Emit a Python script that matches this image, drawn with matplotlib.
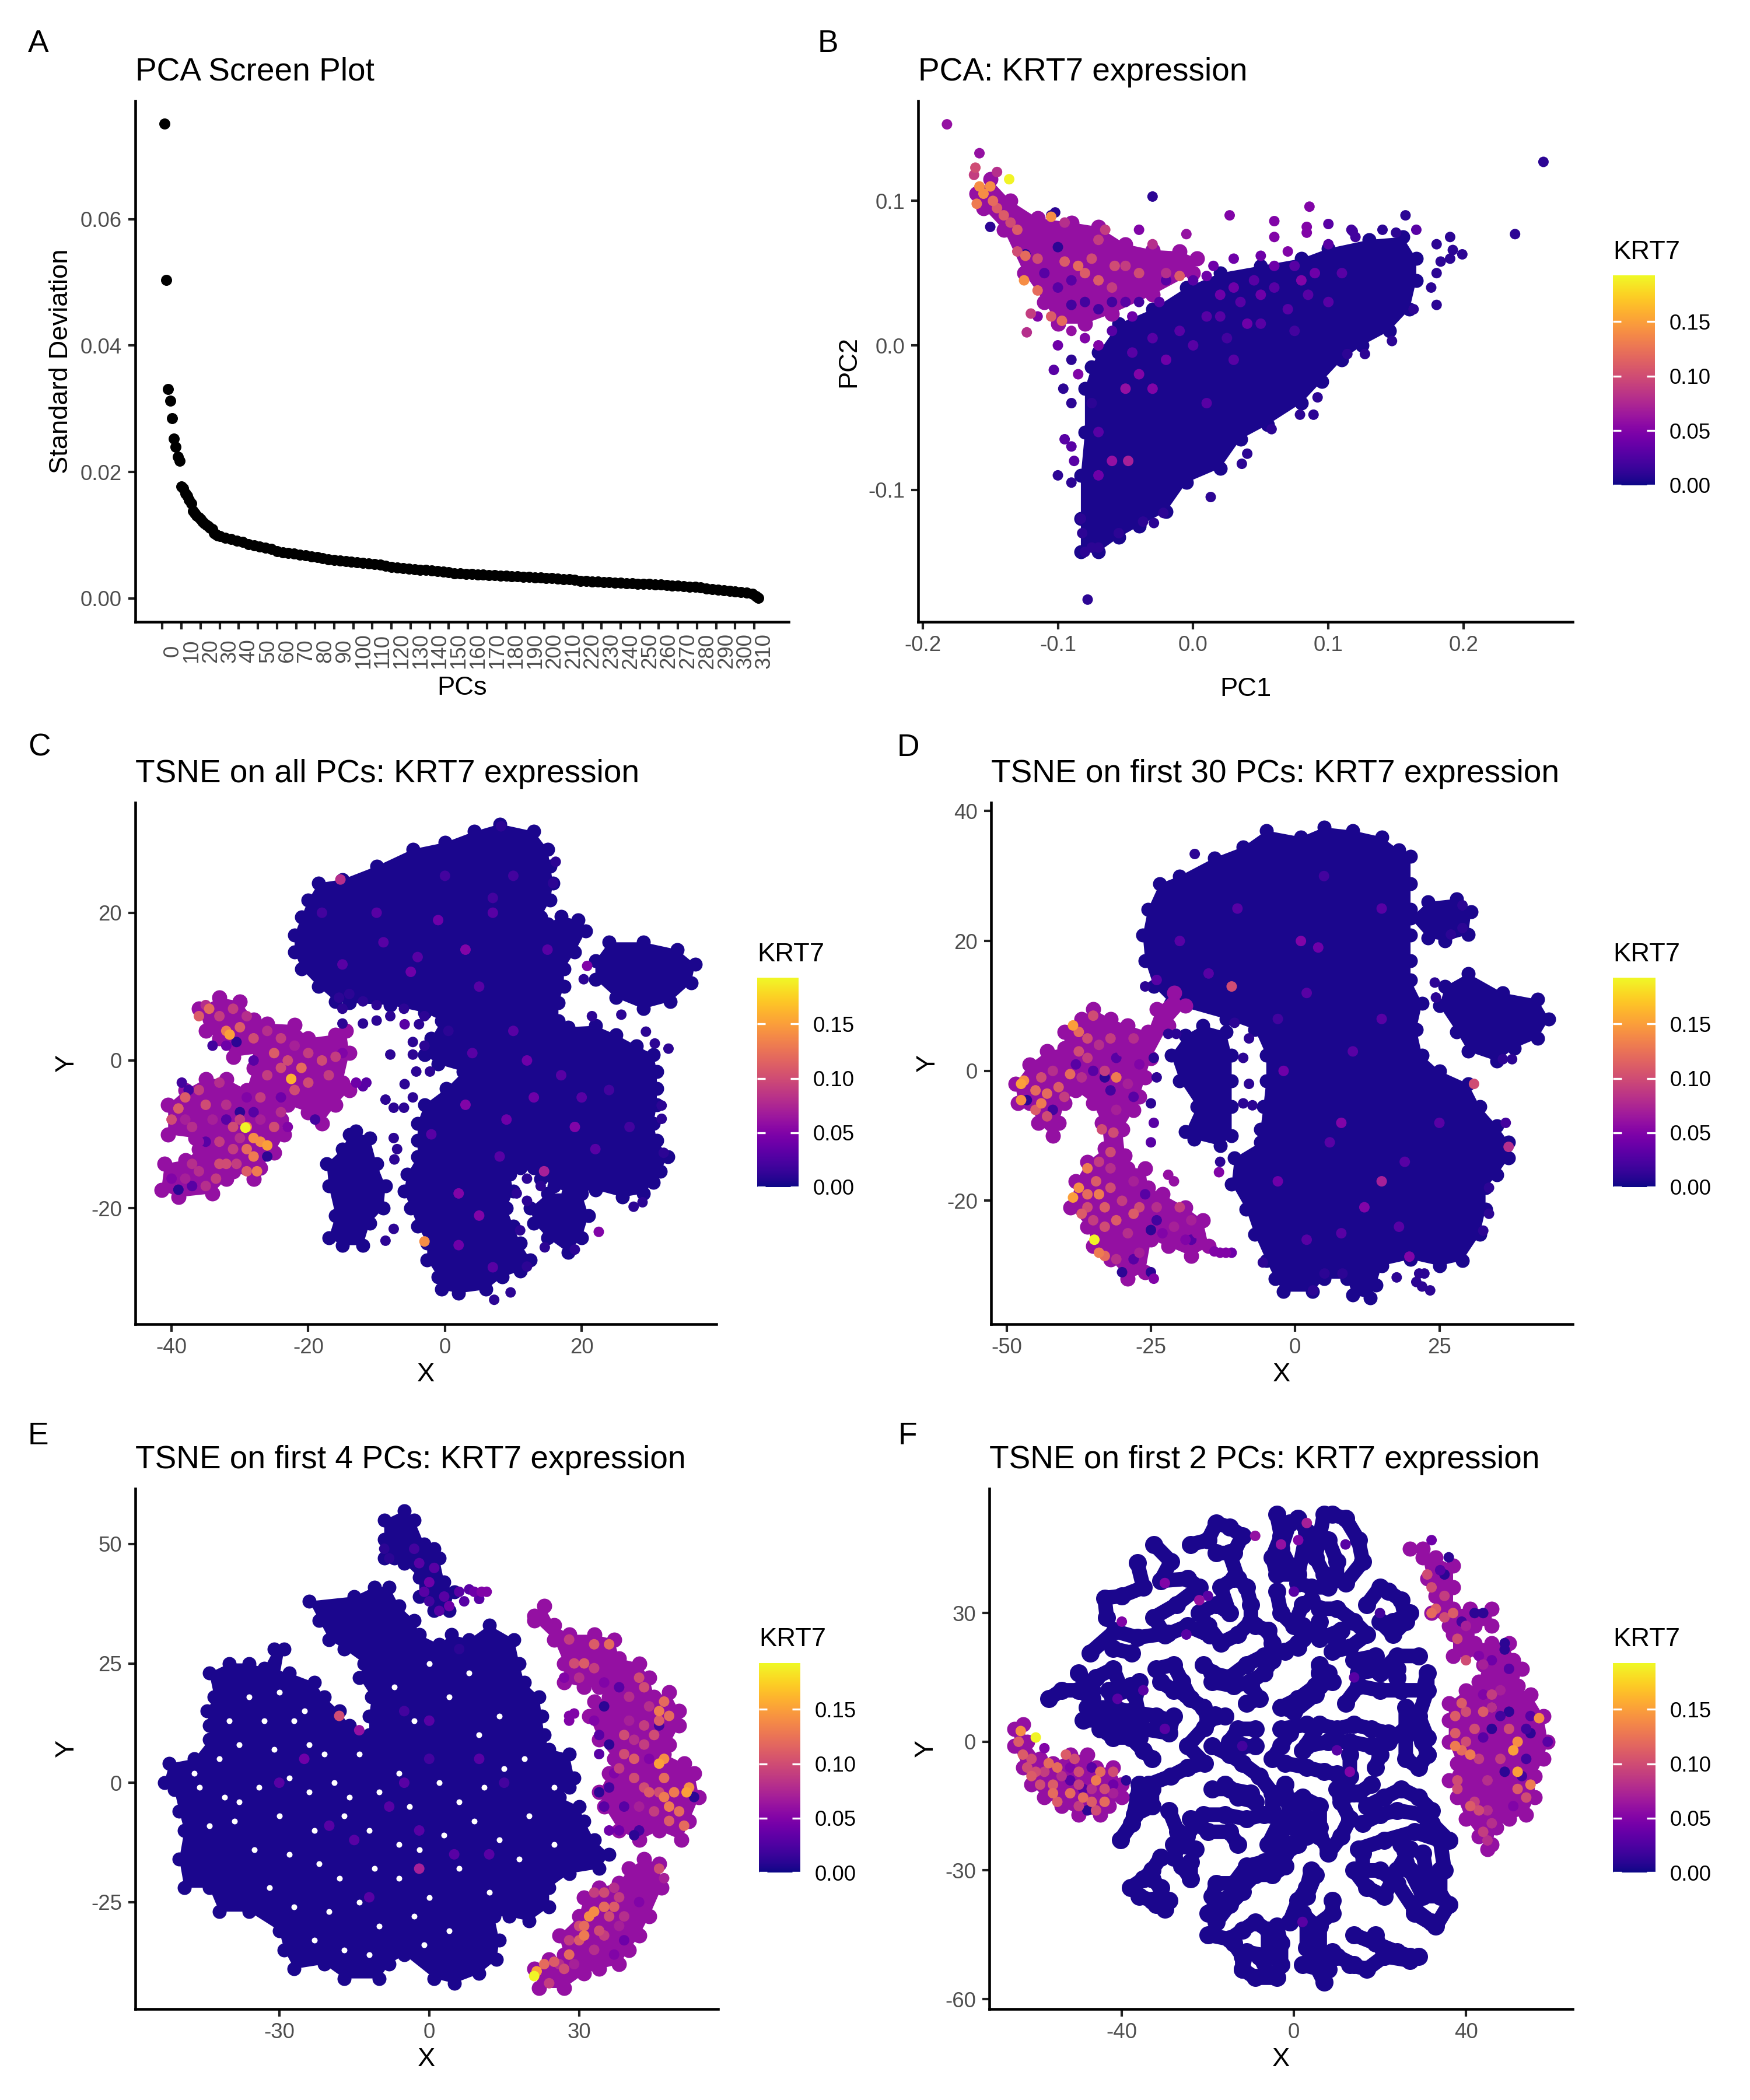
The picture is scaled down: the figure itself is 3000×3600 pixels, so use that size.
import matplotlib
matplotlib.use("Agg")
import matplotlib.pyplot as plt
import numpy as np

plt.rcParams['font.family'] = ['Liberation Sans', 'DejaVu Sans']
plt.rcParams['axes.unicode_minus'] = False

W, H = 3000, 3600
KRT7_MAX = 0.1925
GREY = '#4D4D4D'

# panel A
pcs = list(range(1, 31)) + list(range(33, 310, 3)) + [311, 312]
sdev = [.0751, .0504, .0331, .0313, .0285, .0253, .0240, .0224, .0218, .0177,
        .0174, .0166, .0162, .0156, .0150, .0138, .0135, .0131, .0128, .0125,
        .0122, .0119, .0116, .0114, .0112, .0110, .0103, .0101, .0100, .0099,
        .0096, .0094, .0091, .0089, .0086, .0084, .0082, .0080, .0078, .0075,
        .0073, .0072, .0071, .0069, .0068, .0066, .0065, .0064, .0062, .0061,
        .0060, .0059, .0058, .0057, .0056, .0055, .0054, .0053, .0052, .0050,
        .0049, .0048, .0047, .0046, .0045, .0045, .0044, .0043, .0042, .0041,
        .0040, .0040, .0039, .0039, .0038, .0038, .0037, .0037, .0036, .0036,
        .0035, .0035, .0034, .0034, .0033, .0033, .0032, .0032, .0031, .0030,
        .0030, .0029, .0028, .0028, .0027, .0027, .0026, .0026, .0025, .0025,
        .0024, .0024, .0023, .0023, .0023, .0022, .0022, .0021, .0020, .0020,
        .0019, .0018, .0018, .0017, .0016, .0015, .0014, .0013, .0012, .0011,
        .0010, .0009, .0007, .0004, .0001]
pc_ticks = list(range(0, 311, 10))

# panel B: outlines of the dense clouds, then single dots
b_cloud = [[(-.07, -.005), (-.055, .015), (-.03, .025), (-.005, .04), (.02, .05), (.05, .055), (.08, .06), (.1, .067), (.13, .073), (.155, .075), (.165, .06), (.165, .045), (.16, .025),
            (.145, .01), (.125, 0), (.11, -.01), (.095, -.025), (.08, -.04), (.055, -.055), (.035, -.065), (.02, -.085), (-.005, -.095), (-.02, -.115), (-.04, -.125), (-.055, -.133), (-.07, -.143),
            (-.083, -.143), (-.083, -.12), (-.083, -.09), (-.08, -.06), (-.08, -.03), (-.075, -.015)]]
b_hot = [[(-.16, .105), (-.15, .115), (-.135, .1), (-.115, .088), (-.09, .085), (-.07, .082), (-.05, .07), (-.03, .066), (-.01, .065), (.003, .06), (0, .05), (-.03, .035), (-.06, .022), (-.08, .015),
          (-.1, .015), (-.11, .03), (-.125, .05), (-.14, .08), (-.155, .095)]]
b_dots = [(-.182, .153, .06), (-.158, .133, .06), (-.161, .123, .1), (-.162, .118, .09), (-.145, .12, .08), (-.136, .115, .19),
          (-.158, .11, .14), (-.155, .105, .14), (-.15, .11, .14), (-.148, .1, .12), (-.145, .095, .11), (-.14, .09, .11),
          (-.16, .098, .13), (-.135, .085, .1), (-.13, .08, .11), (-.105, .089, .14), (-.095, .085, .08), (-.13, .065, .1),
          (-.124, .062, .12), (-.115, .06, .1), (-.095, .058, .11), (-.085, .055, .12), (-.08, .05, .11), (-.075, .06, .1),
          (-.07, .045, .11), (-.06, .04, .09), (-.05, .055, .09), (-.04, .05, .1), (-.02, .05, .08), (-.01, .048, .11),
          (-.125, .045, .14), (-.115, .038, .12), (-.105, .02, .11), (-.12, .022, .09), (-.123, .009, .08), (-.097, .017, .12),
          (-.065, .08, .09), (-.07, .073, .09), (-.058, .055, .1), (-.04, .08, .05), (-.03, .07, .08),
          (-.15, .082, .01), (-.102, .092, .01), (-.105, .09, .01), (-.1, .068, .01), (-.124, .063, .01), (-.03, .103, .01),
          (.027, .09, .05), (.06, .086, .05), (.086, .096, .05), (.084, .082, .05), (.084, .078, .05), (.1, .084, .03),
          (.118, .079, .02), (.117, .08, .02), (.157, .09, .01), (.165, .08, .03), (.06, .075, .05), (-.005, .077, .06),
          (.19, .075, .01), (.18, .07, .01), (.192, .066, .01), (.199, .063, .01), (.19, .06, .01), (.183, .058, .01),
          (.18, .05, .01), (.176, .04, .01), (.18, .028, .01), (.163, .025, .01), (.147, .003, .01), (.127, -.006, .01),
          (.114, -.006, .01), (.092, -.036, .01), (.079, -.048, .01), (.089, -.048, .01), (.058, -.058, .01), (.04, -.075, .01),
          (.036, -.082, .01), (.013, -.105, .01), (-.022, -.116, .01), (-.029, -.123, .01), (-.037, -.122, .01), (-.055, -.13, .01),
          (-.078, -.176, .01), (-.08, -.143, .01), (-.075, -.14, .01), (-.07, -.14, .01), (-.082, -.13, .01), (-.083, -.12, .01),
          (.238, .077, .01), (.259, .127, .01), (-.095, -.065, .03), (-.09, -.07, .03), (-.1, -.09, .01), (-.09, -.095, .01),
          (-.088, -.08, .03), (-.103, -.017, .03), (-.09, -.01, .01), (-.096, -.03, .01), (-.09, -.04, .01), (-.1, 0, .04),
          (.03, .04, .04), (.05, .035, .04), (.08, .045, .05), (.07, .025, .03), (.04, .015, .04), (.09, .05, .04),
          (.06, .055, .04), (.1, .03, .03), (.02, .02, .03), (-.02, -.01, .04), (-.03, -.03, .05), (-.04, -.02, .05),
          (-.05, -.03, .06), (-.06, -.08, .06), (-.048, -.08, .07), (.03, -.01, .03), (.01, -.04, .03), (-.07, -.09, .04),
          (-.08, .03, .02), (-.07, .025, .02), (-.06, .03, .02), (-.05, .03, .03), (-.04, .03, .02), (-.09, .028, .02), (-.1, .04, .03), (-.11, .05, .03), (-.09, .045, .03), (-.115, .02, .05),
          (-.02, .045, .03), (0, .045, .03), (.015, .055, .04), (.03, .06, .04), (.05, .062, .04), (.07, .065, .05), (.1, .07, .03), (.12, .075, .02), (.14, .08, .01), (.15, .078, .01),
          (-.07, 0, .05), (-.06, .01, .03), (-.045, .02, .04), (-.025, .03, .03), (.01, .048, .04), (-.08, .005, .05), (-.085, -.02, .05), (-.09, .01, .06), (-.075, -.04, .01), (-.07, -.06, .03),
          (.01, .02, .03), (.035, .03, .03), (.06, .04, .03), (.085, .035, .03), (.11, .05, .03), (.02, .035, .04), (.045, .045, .03), (.075, .055, .03), (-.01, .01, .03), (-.03, .005, .03), (-.045, -.005, .03), (0, 0, .03), (.025, .005, .02), (.05, .015, .03), (.075, .01, .02)]

# panel C
c_cloud = [[(4.3, 31), (8, 32), (13, 31), (15, 28.6), (15.4, 26.3), (15.8, 24), (15.4, 21.7), (14, 19.4), (15, 18.5), (17, 19.5), (19.5, 19), (20.6, 17.5), (19, 14.7), (17.4, 12.4), (17.4, 10), (16.6, 7.8),
            (16.6, 5.4), (18, 4.5), (22, 4.7), (25, 3.5), (28, 2), (30.5, .8), (31, -1.5), (31, -3.8), (31, -6), (30.5, -8.5), (31, -10.8), (32.6, -13), (31.5, -15), (30.5, -16.5), (29, -18), (26, -18.5),
            (22, -17.5), (18, -18), (16, -17), (14, -16), (13, -14.5), (11, -14.5), (9.5, -15.4), (10, -17.7), (9, -20), (10, -22.4), (11, -24.7), (12.5, -27), (11, -28.5), (8.4, -29.3), (6, -31), (2, -31.5),
            (-.5, -31), (-1, -29.3), (-2.6, -27), (-2.6, -24.7), (-4, -22.4), (-5, -20), (-6, -17.7), (-5.5, -15.4), (-4, -13), (-4, -10.8), (-4, -8.5), (-3, -6), (.2, -3.8), (2.7, -1.5), (-1, -.5), (-3, .8),
            (-2, 3), (-.5, 5.4), (-3, 6.5), (-8, 7.5), (-14, 7.8), (-16, 8), (-18.5, 10), (-21, 12.4), (-22, 14.7), (-22, 17), (-21, 19.4), (-20, 21.7), (-18.5, 24), (-15, 24.5), (-10, 26.3), (-4.7, 28.6), (0, 29.5)],
           [(-13, -9.6), (-11, -10.5), (-10, -14), (-8.7, -17), (-9, -20), (-11, -22), (-12, -25), (-15, -25), (-17, -24), (-16, -21), (-17, -17), (-17.3, -14), (-15, -12), (-14, -10)],
           [(24, 16), (29, 16), (34, 15), (36.6, 13), (36, 10.5), (33, 8), (29, 7), (25, 8.5), (22, 11), (22, 13.5)],
           [(12.5, -20), (15, -18), (20, -18), (21, -21), (20, -24), (18, -26), (15, -24), (13, -22)]]
c_hot = [[(-36, 7), (-33, 8.5), (-30, 8), (-28, 5.5), (-26, 5), (-22, 4.8), (-20, 3), (-16, 3.5), (-14.5, 4), (-14, 1), (-15, -3), (-14, -4), (-16, -6), (-18, -8.5), (-20, -7), (-23, -6), (-24, -8), (-23.5, -10),
          (-25, -12.5), (-27, -14.5), (-28, -16), (-31, -15), (-32, -16), (-34, -18), (-39, -18.5), (-41.5, -17.5), (-41, -14), (-38, -13.5), (-36, -12), (-36.5, -10.5), (-40.5, -10), (-40.5, -6), (-38, -4), (-35, -2.5), (-32, -2.5),
          (-29, -4), (-28, -1), (-27, 1), (-31, .5), (-33, 3), (-35, 4)]]
c_dots = [(-34.5, 7, .12), (-33, 6, .09), (-32, 4, .13), (-31.5, 3.5, .15), (-30, 4.5, .11), (-28, 3, .1), (-24, 3, .09), (-23, 0, .1), (-21, -1, .12), (-22.5, -2.5, .16),
          (-20, -3, .1), (-18, 0, .1), (-16, .5, .09), (-22, -4, .1), (-26, -2, .09), (-39, -6.5, .11), (-40, -8, .1), (-38, -5, .11), (-37, -9, .08), (-35, -6, .1),
          (-32, -6, .08), (-30, -8, .09), (-29, -9, .13), (-29.2, -9.1, .19), (-28, -10.5, .14), (-27, -11, .14), (-26, -11.5, .15), (-29, -12, .12), (-31, -12, .09), (-28, -13, .13),
          (-29, -15, .11), (-27.5, -15, .13), (-30.5, -14, .09), (-33, -14, .1), (-37, -14, .08), (-35, -17, .08), (-33.5, -16, .09), (-24, -7, .08), (-25, -9, .1), (-27, -8, .07),
          (-37.5, -4, .02), (-38.5, -3, .02), (-39, -17.5, .01), (-30, -7, .01), (-26, -13, .01), (-30.5, 2.5, .01), (-32, 2, .04), (-13, -3, .04), (-12, -3.5, .03), (-11.5, -3, .03), (-19, -8, .02),
          (-36, 6, .11), (-35, 7.5, .08), (-31, 7, .09), (-29, 6, .08), (-26, 4, .08), (-25, 1, .11), (-24, -1, .1), (-20, 1, .09), (-17, -2, .09), (-19, -5, .06), (-33, -3, .08), (-36, -4, .09), (-34, -8, .07), (-31, -9, .1),
          (-38, -8, .07), (-36, -11, .06), (-33, -11, .09), (-30, -10.5, .08), (-25, -6, .06), (-23, -9, .05), (-40, -16, .05), (-38, -16, .07), (-36, -15, .08), (-32, -14, .1), (-29, -5, .05), (-27, -5, .09), (-22, 2, .07), (-15, 1, .05),
          (-34, 2, .02), (-28, 0, .03), (-24, -5, .04), (-35, -11, .03), (-32, -8, .03), (-28, -7, .03), (-37, -17, .03),
          (-8, .8, .01), (-4.7, 2.5, .01), (-4.7, .8, .01), (-12, 5, .01), (-10, 5.4, .01), (-8, 6, .01), (-5.9, 4.9, .03), (-3.8, 4.9, .01), (-7.5, -10.5, .01), (-7, -12, .01),
          (-7.4, -13.4, .01), (-7.5, -22.8, .01), (-8.7, -24.4, .01), (-8.7, -5.3, .01), (-7.5, -6.4, .01), (-6, -6.4, .01), (-4.2, -1.5, .01), (-5.9, -3.2, .01), (-4.7, -5, .01), (-2.2, -1.5, .01),
          (21.5, 6, .01), (25.8, 6.2, .01), (29.4, 3.9, .01), (32.7, 1.6, .01), (30.7, 2.3, .01), (31.7, -6.1, .01), (31.7, -7.9, .01), (32, -12.5, .01), (28.9, -19.2, .01), (27.6, -19.8, .01),
          (22.5, -23.2, .05), (20.8, 12.8, .05), (20.3, 11, .01), (16.2, 26.9, .01), (15.8, 24, .01), (8.2, 31.7, .01), (7.2, -32.4, .01), (9.6, -31.4, .01), (19, -25.6, .01), (14.6, -25.3, .01),
          (12, -27.9, .01), (-15.5, 8.5, .01), (-15, 7, .01), (-15, 5, .01), (-14, 9, .01), (-12, 8, .01), (-10, 7.5, .01), (-6, 7, .01), (-3, 6, .01),
          (12, -16, .01), (10.5, -18, .01), (12, -19, .01), (11, -23, .01), (14, -17, .01), (-3, -24.5, .14), (-3, 2, .01), (.5, 4, .01), (-15.3, 24.5, .08),
          (-1, 19, .04), (3, 15, .05), (-5, 12, .04), (7, 20, .03), (12, 0, .04), (13, -5, .04), (3, -6, .05), (5, -21, .05), (8, -13, .03), (14.5, -15, .07), (-10, 20, .03), (-4, 14, .03), (15, 15, .03), (7, 22, .02), (20, -5, .03), (24, -4, .02), (2, -18, .05),
          (-18, 20, .02), (-15, 13, .03), (-9, 16, .03), (0, 25, .02), (10, 25, .02), (5, 10, .03), (10, 4, .03), (17, -2, .03), (22, -12, .03), (27, -9, .02), (-2, -10, .03), (2, -25, .04), (7, -28, .03), (9, -8, .04), (19, -9, .05), (4, 1, .03)]

# panel D
d_cloud = [[(-5, 37), (1, 36), (5, 37.5), (10, 37), (15, 36), (18, 34), (20, 33), (20, 28.8), (20, 24.9), (20, 20.9), (20, 17), (20, 14), (22, 10.4), (21, 6.4), (22, 2.4), (25, 0), (30, -2), (32, -5.5), (35, -8.5), (37, -11), (37, -13.4),
            (35, -16), (33, -18), (33, -21.3), (32, -25.2), (29, -29.2), (25, -30), (20, -29), (15, -30), (14, -33), (13, -35), (10, -34.5), (9, -32), (5, -32), (3, -34), (-2, -34), (-3.5, -32), (-5, -29.2), (-7, -25.2), (-8.5, -21.3),
            (-11, -17.4), (-10.5, -13.4), (-6, -11), (-6, -9), (-5.5, -5.5), (-5, -1.5), (-5, 2.4), (-7, 6.4), (-12, 8), (-21.6, 10.4), (-24.5, 13), (-26, 17), (-26.4, 20.9), (-25.5, 24.9), (-23.5, 28.8), (-20, 30), (-14, 32.8), (-9, 34.5)],
           [(-16, 7), (-12, 6), (-11, 2.4), (-11, -1.5), (-11, -5.5), (-11, -10), (-13, -11.5), (-17.5, -10.5), (-19, -9.4), (-17, -5.5), (-20, -1.5), (-21.5, 2.4), (-19, 5.5)],
           [(20, 23.5), (23, 26), (28, 26.5), (30.5, 24.5), (30, 21), (26, 20), (23, 20.5)],
           [(26, 13), (30, 15), (36, 12), (42, 11), (44, 8), (42, 5), (38, 3.5), (35, 1.5), (30, 3), (28, 6), (25, 10)]]
d_hot = [[(-48.5, -2), (-46, 1), (-43, 3), (-40, 3.5), (-40, 6), (-37, 8), (-35, 9.5), (-32, 8), (-29, 7), (-25.5, 6), (-24, 9.5), (-21, 12), (-19, 10), (-22, 7), (-25, 2), (-26, -1), (-27, -4), (-28, -6), (-30, -9), (-29.5, -13), (-29, -15),
          (-26, -15), (-25.5, -18), (-23, -19), (-19, -21), (-16, -23), (-15, -27), (-18, -28.5), (-22, -27), (-25, -26), (-26, -31), (-29, -32), (-32, -29), (-35, -27), (-36, -24), (-39, -21), (-38, -17), (-36, -14), (-33, -12), (-33.5, -8),
          (-35, -5), (-38, -3), (-40, -5), (-41, -8), (-42, -10), (-44.5, -8), (-46, -5), (-48, -5)]]
d_dots = [(-47.5, -2, .15), (-47, -1.5, .14), (-47.5, -4.5, .14), (-45, -3, .12), (-44, -5, .13), (-43, -7, .1), (-43, -3.5, .12), (-41, -2.5, .11), (-39, -.5, .12), (-38.5, 7, .15),
          (-37.5, 6, .12), (-36, 5, .1), (-37.5, 3, .1), (-35, 8.5, .1), (-31, -1, .13), (-33, 0, .09), (-33.5, -9, .1), (-31.5, -9.5, .1), (-32, -12.5, .1), (-34, -14, .09),
          (-36, -15, .13), (-37.5, -18, .14), (-38.5, -19.5, .15), (-36, -19, .12), (-34.5, -17, .11), (-32, -18, .1), (-33, -21, .11), (-36, -21, .1), (-28, -22, .11), (-31, -23, .11),
          (-34.8, -26, .19), (-34, -28, .13), (-33, -28.5, .12), (-27, -21, .1), (-31, -29, .08), (-20, -21, .09), (-18, -23, .07), (-46.5, -4.5, .01), (-30, -31, .01), (-25, -24.5, .01),
          (-33, -1, .01), (-13, -28, .05), (-12, -28, .05), (-11, -28, .04), (-14, -27.8, .05), (-22, -16, .06), (-21, -17, .06), (-13.2, -15.6, .05), (-24.5, -32, .05), (-25, -31, .01),
          (-44, -1, .1), (-42, 0, .08), (-40, -4, .09), (-45, -6, .11), (-36, 2, .09), (-34, 4, .08), (-32, 5, .09), (-30, 3, .06), (-28, 5, .08), (-27, 1, .05), (-29, -2, .07), (-34, -3, .06), (-37, -1, .08),
          (-31, -6, .07), (-32, -15, .08), (-30, -20, .09), (-33, -24, .1), (-29, -25, .08), (-27, -28, .07), (-30, -27, .06), (-24, -21, .08), (-23, -25, .05), (-21, -24, .07), (-19, -26, .05), (-17, -25, .06),
          (-35, -23, .09), (-37, -22, .11), (-34, -19, .13), (-28, -17, .07), (-35, 0, .03), (-31, 2, .03), (-28, -4, .03), (-32, -3, .02), (-38, 1, .03), (-42, -6, .02), (-28, -29, .03), (-24, -23, .02), (-26, -19, .03), (-18, -26, .03),
          (-17.4, 33.4, .01), (24.2, 13.6, .01), (24.4, 11.3, .01), (36.5, -8, .02), (37, -11.7, .08), (31, -2, .1), (-13, -14, .01), (-7.4, -5.3, .01), (-10.5, 7.4, .01), (-20.6, 5.7, .01),
          (-22, 5.7, .01), (36, 1.8, .01), (37.6, 1.8, .01), (33.6, -22, .01), (32.6, -24.6, .01), (19.8, -28.6, .05), (22, -33.2, .01), (23.4, -33.8, .01), (21, -32.5, .01), (22.4, -31.2, .01),
          (21.5, -31.2, .01), (3.1, -33.8, .01), (-5.6, -29.5, .01), (8.2, -31.2, .01), (5.1, -31.2, .01), (17.6, -31.8, .01), (33.6, -18, .01), (27, 21, .01), (29, 25.5, .01), (29, 22, .01),
          (-24, -1, .01), (-24.5, 2, .01), (-25, -5, .01), (-24.5, -8, .03), (-25, -11, .03), (-26, 13, .01), (-24, 14, .03), (-8, 5, .01), (-9, 2, .01), (-8, -2, .01), (-9, -5, .01),
          (2, 12, .03), (1, 20, .05), (-3, 8, .02), (8, -8, .05), (15, -17, .07), (-11, 13, .1), (2, -26, .03), (12, -21, .05), (10, 3, .03), (6, -11, .03), (4, 19, .04), (19, -14, .03), (-2, 0, .04),
          (-10, 25, .03), (5, 30, .02), (15, 25, .03), (-20, 20, .03), (-15, 15, .03), (15, 8, .03), (25, -8, .03), (-3, -17, .04), (18, -24, .03), (8, -25, .03)]

# panel E
e_cloud = [[(-24, 38), (-15, 39), (-11, 41), (-8, 41), (-6, 37), (-3, 34), (-2, 31), (2, 29), (4.5, 31), (8, 30), (12, 33), (17, 30), (18, 25), (19, 21), (22, 18), (22.5, 14), (23, 10), (24, 7), (28, 6), (29, 1), (28, -1), (26, -3), (30, -5), (31, -8),
            (33, -12), (36, -15), (34, -18), (28, -19), (24, -22), (24, -26), (20, -29), (16, -28), (13, -28), (14, -33), (13.5, -37), (10, -40), (5, -42), (1, -41), (-5, -36), (-8, -38), (-10, -41), (-17, -41), (-21, -38), (-27, -39), (-29, -35),
            (-30, -31), (-36, -27), (-42, -27), (-44, -22), (-49, -22), (-50, -16), (-49, -10), (-50, -6), (-51, -1.5), (-53, 0), (-52, 4), (-47, 5), (-44, 9), (-44, 12), (-44.5, 15), (-43, 18), (-44, 23), (-40, 25), (-36, 25), (-33, 24), (-31, 28),
            (-29, 28), (-30, 22), (-28, 23), (-23, 21), (-21, 18), (-18, 15), (-16, 12), (-12, 10), (-12, 14), (-11.5, 18), (-14, 22), (-13, 25), (-17, 28), (-20, 30), (-22, 34)],
           [(-9, 55), (-5, 57), (-3, 55), (-1, 50), (1, 49), (2, 47), (3, 42), (5, 40), (4, 36), (1, 36), (-2, 39), (-2, 43), (-5, 46), (-7, 47), (-9, 47), (-9, 51)]]
e_gaps = [(-36, 18), (-30, 19), (-40, 13), (-33, 13), (-27, 13), (-31, 7), (-24, 8), (-21, 6), (-46, -1), (-41, -3), (-34, -1), (-28, 1), (-24, -2), (-19, 0), (-16, -3), (-14, 6), (-10, -2), (-6, 2), (-4, -5), (2, 0), (6, -4), (11, -1), (15, 3), (19, 5),
          (10, 10), (14, 14), (4, 18), (-3, 13), (-7, 20), (0, 25), (8, 23), (-38, -4), (-44, -9), (-39, -8), (-30, -7), (-23, -10), (-17, -7), (-12, -10), (-6, -13), (-2, -14), (3, -11), (9, -8), (14, -12), (20, -7), (25, -13), (-35, -14), (-28, -15),
          (-22, -17), (-18, -20), (-11, -18), (-6, -20), (0, -24), (6, -18), (12, -23), (18, -16), (-32, -22), (-27, -26), (-20, -27), (-14, -25), (-10, -30), (-3, -28), (4, -31), (-23, -33), (-17, -35), (-12, -36), (-1, -34), (-42, 5), (-47, 2), (25, -1), (-25, 15), (-38, 8)]
e_hot = [[(21, 35), (23, 37), (25, 33), (28, 31), (33, 31), (37, 30), (38, 26), (42, 25), (44, 22), (45, 18), (48, 19), (50, 15), (50, 12), (48, 8), (47, 6), (51, 4), (53, 2), (54, -3), (52, -8), (50.5, -12), (46, -10), (42, -12), (38, -10), (35, -5),
          (34, -2), (36, 2), (37, 5), (34, 9), (32, 14), (33, 17), (36, 18), (34, 20), (31, 20), (27, 21), (27, 25), (25, 30), (21, 34)],
         [(43, -16), (46, -17), (46.5, -22), (44, -28), (42, -32), (40, -35), (38, -38), (34, -39), (31, -40), (27, -43), (22, -43), (21, -39), (24, -37), (27, -36), (26, -32), (30, -28), (31, -24), (34, -22), (38, -21), (40, -18)]]
e_dots = [(21.5, -39.5, .15), (21, -40.5, .19), (23, -38, .12), (25, -37.5, .11), (27, -39, .1), (24, -42, .09), (28, -36, .12), (31, -32, .13), (32, -28, .14), (31, -30, .12),
          (33, -27, .14), (35, -26, .12), (37, -26, .11), (30, -33, .11), (34, -31, .1), (36, -28, .1), (39, -28, .08), (33, -23, .09), (37, -22, .08), (47, -20, .07),
          (46, -18, .1), (51, -9, .12), (50, -6, .12), (48, -5, .13), (47, -3, .13), (52, -1, .14), (51.5, -2, .15), (46, -2, .1), (47, 1, .12), (46, 4, .15),
          (47, 5, .14), (43, -1, .1), (39, 6, .1), (41, 5, .11), (43, 8, .09), (39, 10, .1), (46, 13, .11), (48, 14, .12), (47, 17, .12), (46, 12, .02), (35, 16, .01),
          (40, 18, .08), (42, 22, .1), (43, 20, .1), (33, 29, .11), (36, 29, .12), (31, 25, .11), (28, 30, .09), (29, 25, .1), (36, -1, .02), (42, -10, .02), (53, -3, .01), (41, -11, .01),
          (35, -26, .1), (30, -30, .1), (28, -33, .09), (26, -38, .08), (29, -38, .07), (35, -32, .09), (38, -30, .07), (41, -30, .06), (42, -25, .05), (38, -24, .09), (35, -23, .1), (33, -35, .08), (37, -36, .05), (39, -33, .04),
          (45, 10, .1), (43, 12, .09), (41, 9, .08), (38, 3, .09), (41, 1, .1), (44, -2, .11), (49, -2, .13), (48, -8, .11), (45, -6, .09), (42, -5, .07), (39, -5, .03), (44, 5, .05), (40, 13, .07), (46, 15, .13), (44, 16, .08), (33, 24, .09), (35, 21, .05), (30, 22, .08), (38, 20, .03),
          (34, -2, .01), (35, -5, .03), (36, -10, .04), (38, -10, .04), (28, 14, .05), (29, 14.5, .05), (28, 13, .05), (37, 2, .05), (34, 6, .03), (34, 10, .03), (33, 13, .05), (36, 8, .01), (27, 22, .05),
          (9, 40, .04), (10.5, 40, .05), (10, 38.5, .03), (8, 40.5, .03), (11.5, 40, .05), (-8, 47, .01), (-9, 49, .01), (2, 36, .03), (4, 37, .04), (-2, 46, .03), (0, 42, .04), (6, 40, .03), (7, 38, .03), (-1, 40, .03), (1, 45, .03), (-3, 49, .02), (3, 39, .03), (0, 38, .02),
          (-18, 14, .1), (-14, 11, .06), (0, 13, .03), (-2, -18, .07), (-5, 0, .03), (-25, 5, .04), (-30, 0, .03), (10, 5, .03), (12, -15, .03), (15, 0, .02), (-12, -24, .03), (6, 28, .01), (-5, 15, .02), (-8, -5, .03), (-15, -12, .03), (5, -15, .03), (-20, -9, .03), (-2, -10, .03), (0, 5, .02)]

# panel F, dense worm-like groups traced as strands
f_strands = [[(-24, 46), (-20, 47), (-18, 51), (-15, 50), (-12, 48), (-14, 44), (-18, 44)],
             [(-15, 44), (-13, 38), (-11, 36), (-10, 32), (-10, 28), (-13, 25), (-17, 23), (-20, 27), (-22, 30), (-18, 32), (-15, 30), (-17, 36), (-14, 38)],
             [(-32.5, 46), (-28.6, 42), (-31, 37.5), (-24.7, 38), (-22, 36), (-27.3, 32), (-32.5, 29), (-30, 24.8), (-24.7, 27), (-19.6, 24.8)],
             [(-36.4, 41.7), (-35, 36), (-40, 34), (-44, 33.5), (-43.5, 29)], [(-47.4, 20.7), (-41.6, 25.8), (-36.4, 24.3), (-29.3, 25.3)], [(-42, 21.7), (-37.7, 20.7)],
             [(-50, 16), (-47, 12), (-47, 8), (-45, 3), (-42, 1), (-38, 1), (-35, -2), (-33, -4)], [(-46, 15), (-42, 17), (-40, 12), (-38, 13), (-36, 14)],
             [(-48, 8), (-42, 8), (-38, 7), (-32, 6), (-29, 5)], [(-49, 5), (-44, 5), (-39, 4), (-35, 3), (-29, 2), (-28, 6)], [(-43, 12), (-41, 6), (-40, 2)], [(-37, 11), (-36, 6), (-36, 1)], [(-57, 10), (-54, 12), (-50, 12), (-47, 10)],
             [(-40.3, -22.8), (-37.7, -19), (-36.4, -13), (-33.8, -10), (-28.6, -8), (-24.7, -6), (-20.8, -5), (-24.7, -1), (-20.8, 3.3), (-18.3, 6.3)], [(-36, -10), (-37, -17), (-33, -15), (-33, -11)],
             [(-32, 17), (-28, 18), (-26, 14), (-24, 10), (-21, 8), (-20, 5), (-16, 6)], [(-31, 14), (-28, 12), (-25, 11)], [(-21, 18), (-19, 16), (-15, 15), (-11, 18), (-7, 20), (-2, 21), (1, 23), (2.5, 26)],
             [(-19, 14), (-14, 13), (-10, 14), (-7, 16), (-5, 19)], [(-10, 13), (-8, 10), (-11, 9)], [(6, 18), (9, 14), (5, 13), (1, 10), (-3, 8), (0, 7), (5, 11), (8, 16)], [(6, 16), (6, 13), (3, 11)],
             [(12, 9), (15, 13), (20, 12), (25, 12), (30, 12), (31, 16), (31, 12), (29, 6), (31, 1)], [(14, 19), (19, 20), (20, 16), (24, 20), (29, 20)], [(15, 16), (21, 17), (24, 17), (24, 15)],
             [(-4, 53), (-3, 48), (-5, 43), (-4, 39), (1, 39), (3, 49), (1, 52)], [(-1, 51), (-3, 45), (-1, 41)], [(7, 53), (6, 48), (5, 43), (7, 39), (12, 37), (16, 42), (15, 47), (12, 52), (9, 53)], [(8, 47), (10, 42), (10, 38)], [(1, 37), (4, 36), (8, 36)],
             [(-4, 35), (-3, 30), (0, 27), (2, 32), (4, 33)], [(2, 27), (2, 24), (1, 22)], [(6, 31), (10, 31), (14, 28), (17, 25), (13, 22), (9, 21)], [(6, 28), (6, 24), (11, 26), (10, 23)],
             [(17, 32), (20, 36), (22, 35), (25, 33), (26, 28), (23, 25), (20, 28)], [(23, 28), (27, 30)], [(-9, 27), (-6, 26), (-5, 23)],
             [(-19, -1), (-15, -3), (-12, -5), (-8, -8), (-5, -12), (-5, -16)], [(-15, 0), (-13, 3), (-9, 3)], [(-12, -1), (-9, -1)], [(-5, -4), (-3, -1), (-1, 2)], [(-2, -5), (3, -6), (7, -7), (10, -7.5)], [(-3, 3), (3, 4)],
             [(2, -2), (6, 4), (10, 3), (14, 4), (18, 3), (22, 2)], [(3, -1), (8, 0), (13, 0), (18, -1), (22, 0), (27, 4), (30, 0), (31, -3)], [(26, 8), (26, 3), (26, -4), (29, -6), (31, -3)],
             [(13, -3), (13, -8), (12, -9.5)], [(20, -3), (19, -6)], [(18, -10), (15, -12), (11, -13)], [(-19, -11), (-15, -11), (-10, -12)], [(-16, -10), (-13, -13), (-9, -14)],
             [(-4, -13), (-1, -14), (2, -13), (6, -15), (6, -20)], [(-2, -10), (-1, -17), (-3, -21)], [(2, -16), (1, -21), (5, -18)],
             [(-29, -16), (-27, -21), (-25, -22), (-21, -17), (-16, -17), (-11, -18), (-7, -17), (-3, -18), (-6, -24)], [(-24, -18), (-20, -21), (-15, -21), (-13, -24)], [(-28, -24), (-23, -25)], [(-4, -23), (-1, -24), (3, -22), (6, -22), (8, -25)],
             [(10, -11), (11, -14), (13, -18), (11, -22), (8, -26)], [(11, -13), (14, -12)], [(17, -15), (21, -13), (25, -11), (29, -13), (32, -16), (31, -20)], [(16, -19), (20, -17), (24, -16), (30, -17)], [(32, -19), (36, -23)],
             [(15, -25), (21, -23), (28, -21), (34, -23), (35, -30)], [(14, -30), (17, -34), (21, -36), (24, -30), (27, -25)], [(16, -26), (16, -30), (20, -30), (24, -33), (28, -39), (32, -42)], [(25, -24), (27, -30), (30, -36), (34, -36), (34, -30)], [(30, -26), (31, -32), (36, -38), (33, -43), (28, -40)],
             [(-19, -36), (-18, -33), (-14, -33), (-11, -29), (-7, -28), (-2, -26), (1, -24)], [(-20, -40), (-17, -37), (-13, -35), (-9, -31), (-5, -31), (-2, -29)], [(-18, -42), (-15, -38), (-12, -35)], [(-1, -42), (1, -37), (3, -34), (4, -30)], [(3, -36), (5, -31)],
             [(-38, -34), (-35, -32), (-33, -30), (-31, -27)], [(-36, -36), (-33, -37), (-30, -39), (-31, -34), (-33, -32)], [(-26, -29), (-24, -32), (-24, -28)], [(-28, -27), (-26, -23)], [(-29, -37), (-32, -38)],
             [(-20, -45), (-15, -46), (-12, -44), (-9, -42), (-6, -44), (-6, -50), (-11, -49), (-12, -53), (-9, -55), (-4, -55)], [(-14, -47), (-12, -50), (-12, -53)], [(-8, -50), (-6, -54)], [(-4, -43), (-3, -47), (-3, -52)],
             [(2, -40), (5, -43), (9, -40), (9, -37)], [(3, -42), (3, -48), (5, -52), (7, -56)], [(6, -43), (6, -50), (8, -53), (9, -49)], [(2, -52), (6, -53)],
             [(14, -45), (19, -47), (24, -49), (27, -50)], [(13, -52), (17, -53), (21, -50), (27, -51), (29, -50)], [(10, -50), (14, -52)], [(19, -45), (21, -50)]]
f_hot = [[(-65, 3), (-63, 4), (-62, 0), (-59, -4), (-56, -5), (-52, -3), (-48, -3), (-46, -6), (-42, -6), (-40, -10), (-40, -13), (-43, -15), (-45, -17), (-50, -17), (-54, -15), (-58, -13), (-61, -10), (-63, -6), (-65, -1)],
         [(27, 45), (30, 45), (33, 43), (37, 41), (37, 36), (37, 31), (41, 31), (46, 31), (46, 27), (42, 27), (42, 23), (46, 23), (50, 23), (51, 19), (53, 17), (52, 13), (55, 11), (58, 6), (59, 0), (58, -4), (56, -8), (56, -13), (54, -17), (50, -18), (47, -20), (46, -24), (45, -25),
          (43, -22), (40, -18), (38, -13), (36, -9), (38, -5), (36, 0), (36, 5), (36, 9), (40, 12), (43, 14), (44, 18), (40, 21), (37, 20), (37, 25), (36, 27), (32, 30), (33, 34), (31, 38), (30, 43)]]
f_dots = [(-63.5, 2.5, .14), (-62.5, 4, .06), (-64, 0, .11), (-60, 1, .19), (-63, -3, .11), (-62, -6, .1), (-61, -8, .11), (-57, -5, .12), (-56, -10, .11), (-56, -12, .12),
          (-53, -3, .11), (-51, -4, .1), (-50, -7, .1), (-52, -12, .12), (-49, -13, .12), (-47, -14, .11), (-46, -16, .1), (-46, -9, .13), (-42, -7, .1), (-45, -7, .12),
          (-39, -9, .01), (-48, -16, .01), (-49, -11, .03), (-55, -14, .11), (-59, -10, .1), (-61, -4, .1), (-58, -1.5, .05),
          (-54, -8, .08), (-52, -6, .05), (-50, -10, .09), (-47, -11, .08), (-44, -11, .1), (-42, -12, .07), (-44, -14, .12), (-58, -7, .09), (-55, -6, .12), (-60, -7, .1), (-52, -9, .03), (-47, -6, .03), (-42, -10, .04), (-50, -15, .09),
          (31, 39, .1), (32, 36, .1), (33, 31, .11), (32, 30, .12), (35, 29, .1), (37, 30, .11), (39, 28, .02), (42, 30, .01), (44, 30, .01), (49, 23, .01), (49, 21.5, .01), (40, 19, .1), (43, 20, .05), (38, 24, .1), (44, 18, .07), (32, 47, .04), (36, 43, .01), (35, 39, .01),
          (39, 9, .11), (37.5, 6, .11), (40, 7, .1), (44, 7, .11), (46, 8, .08), (42, 3, .1), (37.5, 2, .11), (37.5, -1, .13), (40, 0, .1), (41, -3, .13), (39, -2, .12), (43, -4, .09),
          (51, -2, .15), (52, 0, .14), (50, 3, .1), (46, 8, .02), (54, -4, .02), (52, -7, .15), (49, -7, .01), (53, -8, .02), (41, -10, .06), (38, -11, .1), (41, -15, .11), (38, -9, .1),
          (43, -16, .1), (46, -19, .08), (44, -21, .09), (45, -23, .08), (55, -10, .13), (57, 5.5, .14), (55, 2, .01), (59, 0, .03), (54, 3, .02), (55, 6, .03), (50, 7, .01), (46, 3, .01), (52, -11, .11), (54, -13, .1),
          (48, 12, .07), (46, 11, .09), (44, 11, .05), (48, 6, .02), (44, 1, .03), (48, -4, .09), (45, -9, .08), (48, -12, .06), (51, -15, .05), (42, -14, .09), (45, -16, .08), (35, 34, .09), (34, 40, .03), (40, 27, .07), (46, 19, .04), (50, 17, .03),
          (-30, 37, .05), (-40, 28, .05), (-9, 48, .06), (3, 51, .07), (-3, 46, .06), (1, 47, .05), (12, 46, .03), (-12, -1, .02), (0, 35, .03), (-25, 25, .03), (-41, 10, .03), (-30, 3, .03), (14, 15, .03), (2, -42, .03), (13, -7, .05), (-20, 34, .03), (-35, 12, .03), (20, 30, .02), (10, -2, .03), (-22, 33, .06)]


def to_xy(points):
    xs = [p[0] for p in points]
    ys = [p[1] for p in points]
    return xs, ys


def place(left, top, right, bottom):
    ax = fig.add_axes([left / W, 1 - bottom / H, (right - left) / W, (bottom - top) / H])
    for side in ['top', 'right']:
        ax.spines[side].set_visible(False)
    for side in ['left', 'bottom']:
        ax.spines[side].set_linewidth(1.1)
    ax.tick_params(length=3, width=1.0, labelsize=8.8, labelcolor=GREY, color='#222222', pad=2.5)
    return ax


def dia(px):
    # marker area in points^2 for a dot of px pixels
    return (px * 0.24) ** 2


def cloud(ax, outlines, value, z, edge_px=24):
    # dense area: outline filled, dots on the outline keep the edge knobbly
    col = cmap(norm(value))
    for o in outlines:
        xs, ys = to_xy(o)
        ax.fill(xs, ys, color=col, lw=0, zorder=z)
        ax.scatter(xs, ys, s=dia(edge_px), color=col, linewidths=0, zorder=z)


def panel(ax, clouds, hot, dots, strands=None, gaps=None):
    navy = cmap(norm(.004))
    if clouds:
        cloud(ax, clouds, .004, 2)
    if strands:
        for s in strands:
            xs, ys = to_xy(s)
            ax.plot(xs, ys, color=navy, lw=6.0, solid_capstyle='round', solid_joinstyle='round', zorder=2)
            ax.scatter(xs, ys, s=dia(31), color=navy, linewidths=0, zorder=2)
    if gaps:
        gx, gy = to_xy(gaps)
        ax.scatter(gx, gy, s=dia(10), color='white', linewidths=0, zorder=2.5)
    cloud(ax, hot, .06, 3, edge_px=26)
    dots = sorted(dots, key=lambda d: d[2] if d[2] > .02 else 0)
    dx, dy = to_xy(dots)
    ax.scatter(dx, dy, c=[d[2] for d in dots], cmap=cmap, norm=norm, s=dia(18), linewidths=0, zorder=4)


def legend(left, top, right, bottom, title_y):
    ax = fig.add_axes([left / W, 1 - bottom / H, (right - left) / W, (bottom - top) / H])
    grad = np.linspace(0, KRT7_MAX, 256).reshape(-1, 1)
    ax.imshow(grad, origin='lower', aspect='auto', cmap=cmap, norm=norm, extent=[0, 1, 0, KRT7_MAX])
    for sp in ax.spines.values():
        sp.set_visible(False)
    ax.set_xticks([])
    ax.set_yticks([0, .05, .1, .15])
    ax.set_yticklabels(['0.00', '0.05', '0.10', '0.15'])
    ax.yaxis.tick_right()
    ax.tick_params(length=0, pad=6, labelsize=8.8, labelcolor='black')
    for v in [0, .05, .1, .15]:
        ax.plot([0, .2], [v, v], color='white', lw=.8, solid_capstyle='butt')
        ax.plot([.8, 1], [v, v], color='white', lw=.8, solid_capstyle='butt')
    ax.set_xlim(0, 1)
    ax.set_ylim(0, KRT7_MAX)
    fig.text(left / W, 1 - title_y / H, 'KRT7', fontsize=10.9, ha='left', va='center')


cmap = plt.get_cmap('plasma')
norm = matplotlib.colors.Normalize(0, KRT7_MAX)

fig = plt.figure(figsize=(10, 12), dpi=300)
title_size = 13.2
label_size = 10.9

# A
ax = place(232, 173, 1352, 1066)
ax.scatter(pcs, sdev, s=dia(19), color='black', linewidths=0, zorder=3)
ax.set_xlim(-14.2, 328)
ax.set_ylim(-.0037, .0787)
ax.set_xticks(pc_ticks)
ax.set_xticklabels(pc_ticks, rotation=90, va='center', ha='left')
ax.tick_params(axis='x', pad=9)
ax.set_yticks([0, .02, .04, .06])
ax.set_yticklabels(['0.00', '0.02', '0.04', '0.06'])
ax.set_title('PCA Screen Plot', loc='left', fontsize=title_size, pad=8.5)
ax.set_xlabel('PCs', fontsize=label_size, labelpad=3)
ax.set_ylabel('Standard Deviation', fontsize=label_size, labelpad=3)

# B
ax = place(1574, 173, 2696, 1066)
panel(ax, b_cloud, b_hot, b_dots)
ax.set_xlim(-.2033, .2806)
ax.set_ylim(-.1914, .1692)
ax.set_xticks([-.2, -.1, 0, .1, .2])
ax.set_xticklabels(['-0.2', '-0.1', '0.0', '0.1', '0.2'])
ax.set_yticks([-.1, 0, .1])
ax.set_yticklabels(['-0.1', '0.0', '0.1'])
ax.set_title('PCA: KRT7 expression', loc='left', fontsize=title_size, pad=8.5)
ax.set_xlabel('PC1', fontsize=label_size, labelpad=9)
ax.set_ylabel('PC2', fontsize=label_size, labelpad=3)
legend(2765, 472, 2837, 832, 433)

# C
ax = place(232, 1376, 1228, 2270)
panel(ax, c_cloud, c_hot, c_dots)
ax.set_xlim(-45.3, 39.7)
ax.set_ylim(-35.7, 34.9)
ax.set_xticks([-40, -20, 0, 20])
ax.set_yticks([-20, 0, 20])
ax.set_title('TSNE on all PCs: KRT7 expression', loc='left', fontsize=title_size, pad=8.5)
ax.set_xlabel('X', fontsize=label_size, labelpad=2)
ax.set_ylabel('Y', fontsize=label_size, labelpad=5)
legend(1298, 1676, 1369, 2035, 1637)

# D
ax = place(1699, 1376, 2696, 2270)
panel(ax, d_cloud, d_hot, d_dots)
ax.set_xlim(-52.7, 48.1)
ax.set_ylim(-39, 41.3)
ax.set_xticks([-50, -25, 0, 25])
ax.set_yticks([-20, 0, 20, 40])
ax.set_title('TSNE on first 30 PCs: KRT7 expression', loc='left', fontsize=title_size, pad=8.5)
ax.set_xlabel('X', fontsize=label_size, labelpad=2)
ax.set_ylabel('Y', fontsize=label_size, labelpad=3)
legend(2765, 1676, 2838, 2035, 1637)

# E
ax = place(232, 2552, 1231, 3444)
panel(ax, e_cloud, e_hot, e_dots, gaps=e_gaps)
ax.set_xlim(-58.8, 57.8)
ax.set_ylim(-47.4, 61.6)
ax.set_xticks([-30, 0, 30])
ax.set_yticks([-25, 0, 25, 50])
ax.set_title('TSNE on first 4 PCs: KRT7 expression', loc='left', fontsize=title_size, pad=8.5)
ax.set_xlabel('X', fontsize=label_size, labelpad=2)
ax.set_ylabel('Y', fontsize=label_size, labelpad=5)
legend(1301, 2851, 1372, 3210, 2811)

# F
ax = place(1696, 2552, 2696, 3444)
panel(ax, None, f_hot, f_dots, strands=f_strands)
ax.set_xlim(-70.8, 64.8)
ax.set_ylim(-62.3, 59)
ax.set_xticks([-40, 0, 40])
ax.set_yticks([-60, -30, 0, 30])
ax.set_title('TSNE on first 2 PCs: KRT7 expression', loc='left', fontsize=title_size, pad=8.5)
ax.set_xlabel('X', fontsize=label_size, labelpad=2)
ax.set_ylabel('Y', fontsize=label_size, labelpad=3)
legend(2765, 2851, 2838, 3210, 2811)

for letter, px, py in [('A', 48, 75), ('B', 1402, 75), ('C', 48, 1282), ('D', 1538, 1282), ('E', 48, 2462), ('F', 1540, 2462)]:
    fig.text(px / W, 1 - py / H, letter, fontsize=12.8, ha='left', va='center')

plt.savefig('out.png', dpi=300)
